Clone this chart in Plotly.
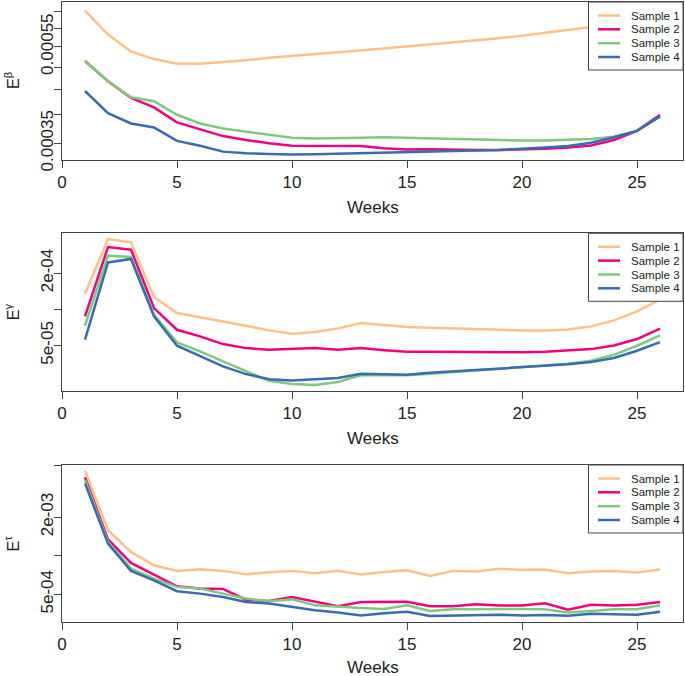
import plotly.graph_objects as go

weeks = [1, 2, 3, 4, 5, 6, 7, 8, 9, 10, 11, 12, 13, 14, 15, 16, 17, 18, 19, 20, 21, 22, 23, 24, 25, 26]
samples = ["Sample 1", "Sample 2", "Sample 3", "Sample 4"]
colors = ["#FDC086", "#F0027F", "#7FC97F", "#386CB0"]

# Panel 1: E^beta
beta_s1 = [6.51e-4, 5.82e-4, 5.38e-4, 5.19e-4, 5.08e-4, 5.08e-4, 5.12e-4, 5.16e-4, 5.22e-4, 5.27e-4,
           5.32e-4, 5.36e-4, 5.40e-4, 5.45e-4, 5.51e-4, 5.56e-4, 5.61e-4, 5.67e-4, 5.72e-4, 5.79e-4,
           5.87e-4, 5.94e-4, 6.03e-4, 6.18e-4, 6.36e-4, 6.58e-4]
beta_s2 = [5.14e-4, 4.68e-4, 4.33e-4, 4.14e-4, 3.86e-4, 3.74e-4, 3.62e-4, 3.555e-4, 3.50e-4, 3.46e-4,
           3.455e-4, 3.45e-4, 3.455e-4, 3.42e-4, 3.40e-4, 3.405e-4, 3.395e-4, 3.39e-4, 3.39e-4, 3.395e-4,
           3.41e-4, 3.43e-4, 3.465e-4, 3.555e-4, 3.71e-4, 4.00e-4]
beta_s3 = [5.15e-4, 4.68e-4, 4.34e-4, 4.26e-4, 4.00e-4, 3.84e-4, 3.75e-4, 3.70e-4, 3.64e-4, 3.59e-4,
           3.58e-4, 3.58e-4, 3.59e-4, 3.60e-4, 3.59e-4, 3.585e-4, 3.57e-4, 3.555e-4, 3.55e-4, 3.545e-4,
           3.545e-4, 3.555e-4, 3.57e-4, 3.61e-4, 3.71e-4, 3.97e-4]
beta_s4 = [4.47e-4, 4.03e-4, 3.84e-4, 3.77e-4, 3.54e-4, 3.46e-4, 3.366e-4, 3.34e-4, 3.33e-4, 3.32e-4,
           3.325e-4, 3.335e-4, 3.34e-4, 3.35e-4, 3.366e-4, 3.375e-4, 3.38e-4, 3.385e-4, 3.39e-4, 3.405e-4,
           3.43e-4, 3.455e-4, 3.51e-4, 3.60e-4, 3.71e-4, 3.97e-4]

# Panel 2: E^gamma
gamma_s1 = [1.346e-4, 3.83e-4, 3.60e-4, 1.263e-4, 9.30e-5, 8.61e-5, 7.92e-5, 7.29e-5, 6.67e-5, 6.26e-5,
            6.46e-5, 6.93e-5, 7.67e-5, 7.39e-5, 7.11e-5, 7.03e-5, 6.93e-5, 6.80e-5, 6.67e-5, 6.67e-5,
            6.67e-5, 6.80e-5, 7.20e-5, 8.07e-5, 9.60e-5, 1.20e-4]
gamma_s2 = [8.72e-5, 3.29e-4, 3.13e-4, 1.023e-4, 6.75e-5, 5.95e-5, 5.13e-5, 4.75e-5, 4.60e-5, 4.66e-5,
            4.75e-5, 4.60e-5, 4.75e-5, 4.57e-5, 4.43e-5, 4.43e-5, 4.41e-5, 4.38e-5, 4.35e-5, 4.38e-5,
            4.43e-5, 4.52e-5, 4.66e-5, 5.00e-5, 5.65e-5, 6.90e-5]
gamma_s3 = [7.29e-5, 2.79e-4, 2.72e-4, 9.00e-5, 5.30e-5, 4.46e-5, 3.68e-5, 3.04e-5, 2.54e-5, 2.39e-5,
            2.34e-5, 2.48e-5, 2.82e-5, 2.84e-5, 2.82e-5, 2.91e-5, 3.00e-5, 3.10e-5, 3.20e-5, 3.30e-5,
            3.41e-5, 3.52e-5, 3.73e-5, 4.18e-5, 4.97e-5, 6.05e-5]
gamma_s4 = [5.58e-5, 2.45e-4, 2.62e-4, 8.72e-5, 4.97e-5, 4.05e-5, 3.35e-5, 2.89e-5, 2.62e-5, 2.56e-5,
            2.61e-5, 2.68e-5, 2.91e-5, 2.89e-5, 2.85e-5, 2.96e-5, 3.04e-5, 3.14e-5, 3.24e-5, 3.33e-5,
            3.40e-5, 3.48e-5, 3.64e-5, 3.93e-5, 4.52e-5, 5.33e-5]

# Panel 3: E^tau
tau_s1 = [4.60e-3, 1.58e-3, 1.07e-3, 8.42e-4, 7.61e-4, 7.84e-4, 7.61e-4, 7.16e-4, 7.43e-4, 7.61e-4,
          7.29e-4, 7.61e-4, 7.12e-4, 7.47e-4, 7.70e-4, 6.95e-4, 7.61e-4, 7.52e-4, 7.89e-4, 7.75e-4,
          7.80e-4, 7.29e-4, 7.52e-4, 7.61e-4, 7.38e-4, 7.80e-4]
tau_s2 = [4.08e-3, 1.34e-3, 8.78e-4, 7.16e-4, 5.77e-4, 5.54e-4, 5.50e-4, 4.54e-4, 4.43e-4, 4.76e-4,
          4.36e-4, 4.03e-4, 4.36e-4, 4.36e-4, 4.38e-4, 4.03e-4, 4.03e-4, 4.18e-4, 4.08e-4, 4.08e-4,
          4.25e-4, 3.79e-4, 4.15e-4, 4.08e-4, 4.15e-4, 4.36e-4]
tau_s3 = [3.89e-3, 1.28e-3, 7.93e-4, 6.63e-4, 5.71e-4, 5.54e-4, 5.06e-4, 4.63e-4, 4.41e-4, 4.57e-4,
          4.10e-4, 3.98e-4, 3.91e-4, 3.84e-4, 4.10e-4, 3.70e-4, 3.82e-4, 3.82e-4, 3.84e-4, 3.84e-4,
          3.82e-4, 3.60e-4, 3.70e-4, 3.82e-4, 3.82e-4, 4.10e-4]
tau_s4 = [3.66e-3, 1.24e-3, 7.61e-4, 6.43e-4, 5.28e-4, 5.06e-4, 4.76e-4, 4.36e-4, 4.23e-4, 3.98e-4,
          3.75e-4, 3.60e-4, 3.42e-4, 3.55e-4, 3.66e-4, 3.38e-4, 3.40e-4, 3.42e-4, 3.47e-4, 3.41e-4,
          3.45e-4, 3.40e-4, 3.53e-4, 3.49e-4, 3.47e-4, 3.66e-4]

x_ticks = [0, 5, 10, 15, 20, 25]

panels = [
    dict(series=[beta_s1, beta_s2, beta_s3, beta_s4], label="E<sup>β</sup>",
         yrange=[-3.4899, -3.1688],
         labeled=[0.00035, 0.00055], labels=["0.00035", "0.00055"],
         minor=[0.0004, 0.00045, 0.0005, 0.0006, 0.00065], wshift=-47),
    dict(series=[gamma_s1, gamma_s2, gamma_s3, gamma_s4], label="E<sup>γ</sup>",
         yrange=[-4.6799, -3.3686],
         labeled=[5e-5, 2e-4], labels=["5e-05", "2e-04"],
         minor=[1e-4], wshift=-47),
    dict(series=[tau_s1, tau_s2, tau_s3, tau_s4], label="E<sup>τ</sup>",
         yrange=[-3.5171, -2.2933],
         labeled=[5e-4, 2e-3], labels=["5e-04", "2e-03"],
         minor=[1e-3, 5e-3], wshift=-45),
]

W, H = 685, 676
ML, MR, MT, MB = 62, 2, 2, 54
PW = W - ML - MR
PH = H - MT - MB
frames = [(2, 160), (233.3, 391), (465, 622)]

font_family = "Liberation Sans, Arial, Helvetica, sans-serif"
ink = "#222222"
frame_col = "#444444"

fig = go.Figure()
shapes = []
annotations = []

for i, p in enumerate(panels):
    k = i + 1
    xa = "x" if k == 1 else f"x{k}"
    ya = "y" if k == 1 else f"y{k}"
    top, bot = frames[i]
    dom = [(MT + PH - bot) / PH, (MT + PH - top) / PH]
    dom = [max(0.0, dom[0]), min(1.0, dom[1])]
    ph = (dom[1] - dom[0]) * PH
    for s, name, col in zip(p["series"], samples, colors):
        fig.add_trace(go.Scatter(x=weeks, y=s, mode="lines", name=name,
                                 line=dict(color=col, width=2.5),
                                 xaxis=xa, yaxis=ya, showlegend=False))
    axkw = dict(showline=True, mirror=True, linecolor=frame_col, linewidth=1,
                ticks="outside", ticklen=7, tickcolor=frame_col, tickwidth=1,
                showgrid=False, zeroline=False,
                tickfont=dict(family=font_family, size=17, color=ink))
    fig.update_layout(**{
        ("xaxis" if k == 1 else f"xaxis{k}"): dict(
            domain=[0, 1], range=[0, 27], tickmode="array", tickvals=x_ticks,
            anchor=ya, **axkw),
        ("yaxis" if k == 1 else f"yaxis{k}"): dict(
            domain=dom, type="log", range=p["yrange"], tickmode="array",
            tickvals=p["labeled"], ticktext=p["labels"], tickangle=-90,
            ticklabelstandoff=-6,
            minor=dict(tickmode="array", tickvals=p["minor"], ticks="outside",
                       ticklen=7, tickcolor=frame_col, tickwidth=1, showgrid=False),
            anchor=xa, **axkw),
    })
    xd = f"{xa} domain"
    yd = f"{ya} domain"
    annotations.append(dict(text="Weeks", xref=xd, yref=yd, x=0.5, y=0,
                            xanchor="center", yanchor="middle", yshift=p["wshift"],
                            showarrow=False,
                            font=dict(family=font_family, size=17, color=ink)))
    annotations.append(dict(text=p["label"], xref=xd, yref=yd, x=0, y=0.5,
                            xanchor="center", yanchor="middle", xshift=-50,
                            textangle=-90, showarrow=False,
                            font=dict(family=font_family, size=16, color=ink)))
    fx = lambda px: px / PW
    fy = lambda py: 1 - py / ph
    shapes.append(dict(type="rect", xref=xd, yref=yd, x0=fx(526.5), x1=1,
                       y0=fy(68), y1=1, fillcolor="white",
                       line=dict(color=frame_col, width=1), layer="above"))
    rows = [13.5, 27.3, 41.2, 55.0]
    for r, name, col in zip(rows, samples, colors):
        shapes.append(dict(type="line", xref=xd, yref=yd, x0=fx(536), x1=fx(558),
                           y0=fy(r), y1=fy(r), line=dict(color=col, width=2.5),
                           layer="above"))
        annotations.append(dict(text=name, xref=xd, yref=yd, x=fx(567), y=fy(r),
                                xanchor="left", yanchor="middle", showarrow=False,
                                font=dict(family=font_family, size=11.5, color=ink)))

fig.update_layout(width=W, height=H, margin=dict(l=ML, r=MR, t=MT, b=MB),
                  paper_bgcolor="white", plot_bgcolor="white",
                  showlegend=False, shapes=shapes, annotations=annotations,
                  font=dict(family=font_family, color=ink))

fig.write_html("out.html", config={"displayModeBar": False},
               post_script="document.body.style.margin='0px';")
